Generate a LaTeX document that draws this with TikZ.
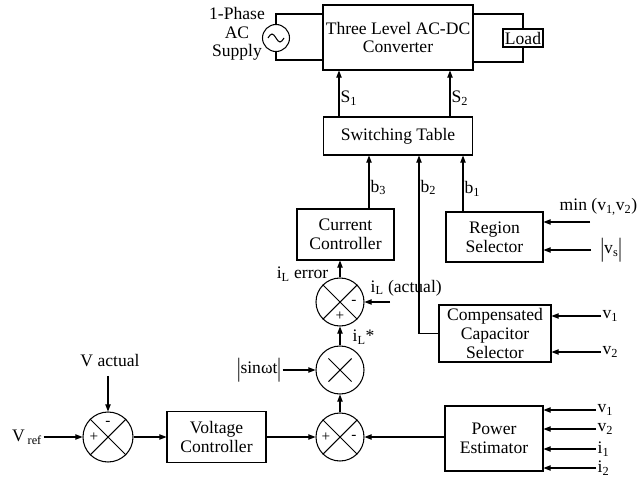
\documentclass[tikz,border=0pt]{standalone}
\usepackage{fontspec}
\setmainfont{Liberation Serif}
\usetikzlibrary{arrows.meta, positioning}

\newlength{\px}
\setlength{\px}{0.03cm}
\newcommand{\absbar}{\raisebox{-0.14em}{\scalebox{1}[1.5]{|}}}

\begin{document}
\begin{tikzpicture}[
  x=0.03cm, y=-0.03cm,
  font=\fontsize{15}{16}\selectfont,
  line width=0.9pt,
  box/.style={rectangle, draw, align=center, inner sep=0pt},
  junc/.style={circle, draw, minimum size=48\px, inner sep=0pt},
  sign/.style={font=\fontsize{13}{13}\selectfont, inner sep=0pt},
  lbl/.style={inner sep=1pt},
  arrow/.style={-{Triangle[length=6pt, width=4.5pt]}},
]
  \useasboundingbox (0,0) rectangle (641,478);

  % converter and supply
  \node[box, minimum width=150\px, minimum height=65\px] (conv) at (398,37.5) {Three Level AC-DC\\Converter};
  \node[circle, draw, minimum size=27\px, inner sep=0pt] (ac) at (276,38) {};
  \draw ([xshift=-8\px]ac.center) sin ++(4,-4) cos ++(4,4) sin ++(4,4) cos ++(4,-4);
  \node[lbl, align=center] (supply) at (237,34) {1-Phase\\AC\\Supply};
  \node[box, minimum width=40\px, minimum height=18\px] (load) at (523,38) {Load};
  \draw (ac.north) |- ([yshift=23.5\px]conv.west);
  \draw (ac.south) |- ([yshift=-22.5\px]conv.west);
  \draw ([yshift=23.5\px]conv.east) -| (load.north);
  \draw (load.south) |- ([yshift=-24.5\px]conv.east);

  % switching table
  \node[box, minimum width=149\px, minimum height=38\px] (sw) at (398,136) {Switching Table};
  \draw[arrow] ([xshift=-59\px]sw.north) -- ([xshift=-59\px]conv.south) node[pos=0.4, right, lbl] {S\textsubscript{1}};
  \draw[arrow] ([xshift=52\px]sw.north) -- ([xshift=52\px]conv.south) node[pos=0.4, right, lbl] {S\textsubscript{2}};

  % controllers and selectors
  \node[box, minimum width=97\px, minimum height=51\px] (cc) at (345.5,234.5) {Current\\Controller};
  \node[box, minimum width=97\px, minimum height=50\px] (reg) at (494.5,237) {Region\\Selector};
  \node[box, minimum width=112\px, minimum height=57\px] (ccs) at (495,333.5) {Compensated\\Capacitor\\Selector};
  \node[box, minimum width=99\px, minimum height=51\px] (vc) at (216.5,437) {Voltage\\Controller};
  \node[box, minimum width=98\px, minimum height=65\px] (pe) at (494,438.5) {Power\\Estimator};

  \draw[arrow] (cc.north) ++(23.5,0) coordinate (b3s) -- (b3s |- sw.south) node[pos=0.4, right, lbl] {b\textsubscript{3}};
  \draw[arrow] (reg.north) ++(-31.5,0) coordinate (b1s) -- (b1s |- sw.south) node[pos=0.4, right, lbl] {b\textsubscript{1}};
  \draw[arrow] (ccs.west) -| ([xshift=21\px]sw.south) node[pos=0.91, right, lbl] {b\textsubscript{2}};

  % summing junctions
  \node[junc] (sumi) at (340,302) {};
  \node[junc] (mul) at (340,370) {};
  \node[junc] (sump) at (340,437) {};
  \node[junc, minimum size=50\px] (sumv) at (108,437) {};
  \foreach \s in {sumi, sump, sumv}
    \draw (\s.north east) -- (\s.south west) (\s.north west) -- (\s.south east);
  \draw[shorten >=7pt, shorten <=7pt] (mul.north east) -- (mul.south west);
  \draw[shorten >=7pt, shorten <=7pt] (mul.north west) -- (mul.south east);

  \node[sign] at ([xshift=-14\px]sumv.center) {+};
  \node[sign] at ([yshift=14\px]sumv.center) {-};
  \node[sign] at ([xshift=-14\px]sump.center) {+};
  \node[sign] at ([xshift=14\px]sump.center) {-};
  \node[sign] at ([xshift=14\px]sumi.center) {-};
  \node[sign] at ([yshift=-14\px]sumi.center) {+};

  % labels of the loop
  \node[lbl] (vref) at (27,437) {V\,\textsubscript{ref}};
  \node[lbl] (vact) at (110,361) {V actual};
  \node[lbl] (sin) at (259,370) {\absbar sinωt\absbar};
  \node[lbl, anchor=east] (ierr) at (330,274) {i\textsubscript{L} error};
  \node[lbl, anchor=west] (istar) at (351,337) {i\textsubscript{L}*};
  \node[lbl, anchor=west] (iact) at (369,288) {i\textsubscript{L} (actual)};
  \coordinate (iin) at (390,302);

  \draw[arrow] (vref) -- (sumv);
  \draw[arrow] (sumv.north |- vact.south) ++(0,7) -- (sumv.north);
  \draw[arrow] (sumv) -- (vc);
  \draw[arrow] (vc) -- (sump);
  \draw[arrow] (pe.west |- sump) -- (sump.east);
  \draw[arrow] (sump) -- (mul);
  \draw[arrow] (sin) -- (mul);
  \draw[arrow] (mul) -- (sumi);
  \draw[arrow] (iin) -- (sumi.east);
  \draw[arrow] (sumi) -- (cc.south -| sumi);

  % inputs on the right
  \node[lbl, anchor=west] (minv) at (558,207) {min (v\textsubscript{1,}v\textsubscript{2})};
  \coordinate (minin) at (590,222);
  \node[lbl, anchor=west] (vs) at (599,250) {\absbar v\textsubscript{s}\absbar};
  \draw[arrow] (minin) -- (minin -| reg.east);
  \draw[arrow] (vs.west) ++(-8,0) -- (vs -| reg.east);

  \node[lbl, anchor=west] (cv1) at (601,316) {v\textsubscript{1}};
  \node[lbl, anchor=west] (cv2) at (601,352) {v\textsubscript{2}};
  \draw[arrow] (cv1) -- (cv1 -| ccs.east);
  \draw[arrow] (cv2) -- (cv2 -| ccs.east);

  \foreach \y/\t [count=\k] in {410/v\textsubscript{1}, 429/v\textsubscript{2}, 449/i\textsubscript{1}, 468/i\textsubscript{2}} {
    \node[lbl, anchor=west] (pin\k) at (596,\y) {\t};
    \draw[arrow] (pin\k) -- (pin\k -| pe.east);
  }
\end{tikzpicture}
\end{document}
